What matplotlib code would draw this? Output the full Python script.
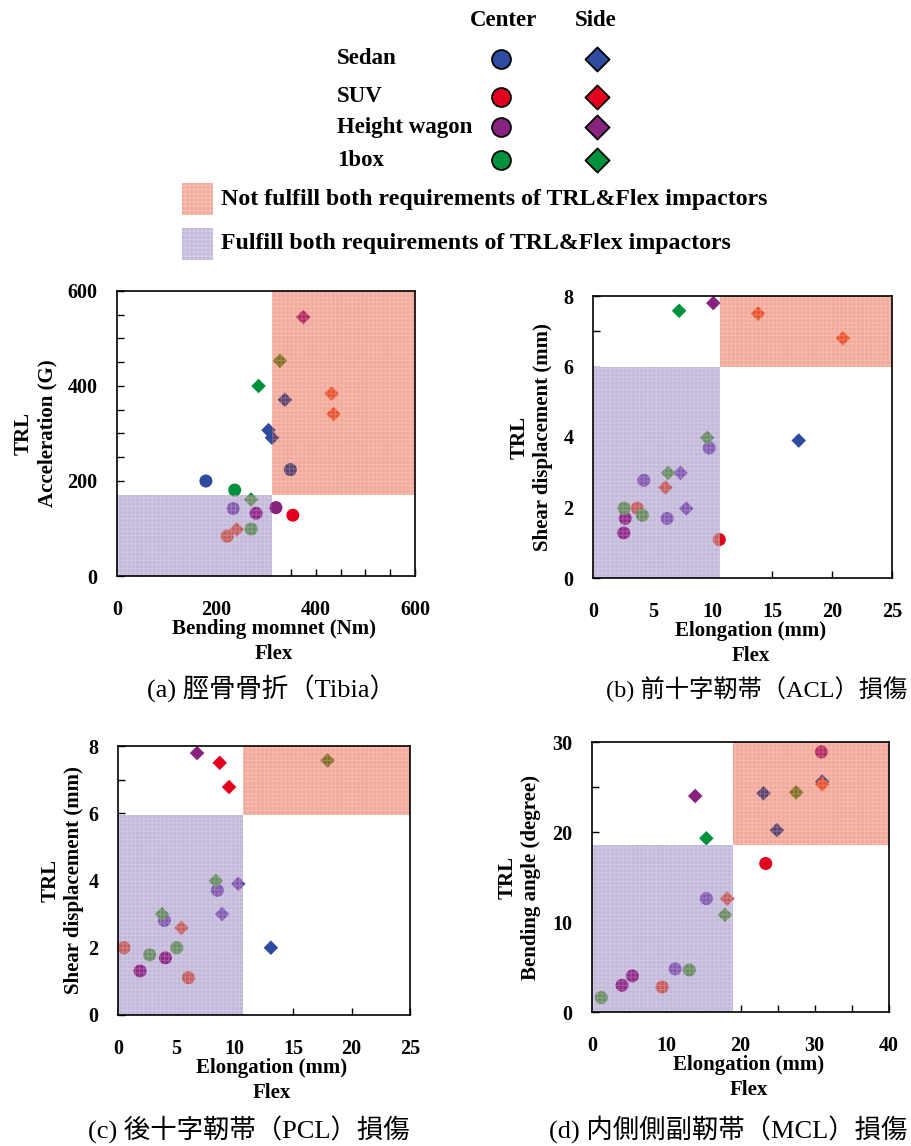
import matplotlib.pyplot as plt
from matplotlib.patches import Rectangle

plt.rcParams['font.family'] = ['Liberation Serif', 'Noto Sans CJK JP']
plt.rcParams['font.weight'] = 'bold'
plt.rcParams['hatch.linewidth'] = 0.8

# vehicle categories, C = center impact (circle), S = side impact (diamond)
cars = ['Sedan', 'SUV', 'Height wagon', '1box']

# (a) Tibia: bending moment (Nm) vs TRL acceleration (G)
tibia_x = [179, 349, 234, 354, 222, 280, 320, 237, 270,
           305, 312, 338, 432, 436, 241, 375, 285, 328, 270]
tibia_y = [200, 224, 142, 128, 84, 132, 144, 181, 99,
           307, 291, 371, 384, 341, 98, 545, 400, 453, 161]
tibia_car = ['Sedan', 'Sedan', 'Sedan', 'SUV', 'SUV', 'Height wagon', 'Height wagon', '1box', '1box',
             'Sedan', 'Sedan', 'Sedan', 'SUV', 'SUV', 'SUV', 'Height wagon', '1box', '1box', '1box']
tibia_kind = ['C'] * 9 + ['S'] * 10
tibia_limit = (313, 171)

# (b) ACL: elongation (mm) vs TRL shear displacement (mm)
acl_x = [9.72, 4.25, 6.2, 3.7, 10.56, 2.7, 2.57, 2.6, 4.13,
         17.2, 7.32, 7.8, 13.8, 20.9, 6.06, 10.06, 7.2, 9.55, 6.28]
acl_y = [3.69, 2.77, 1.69, 1.98, 1.09, 1.69, 1.28, 1.98, 1.78,
         3.9, 2.98, 1.97, 7.5, 6.8, 2.57, 7.8, 7.58, 3.98, 2.98]
acl_car = ['Sedan', 'Sedan', 'Sedan', 'SUV', 'SUV', 'Height wagon', 'Height wagon', '1box', '1box',
           'Sedan', 'Sedan', 'Sedan', 'SUV', 'SUV', 'SUV', 'Height wagon', '1box', '1box', '1box']
acl_kind = ['C'] * 9 + ['S'] * 10
acl_limit = (10.6, 6.0)

# (c) PCL: elongation (mm) vs TRL shear displacement (mm)
pcl_x = [8.51, 3.97, 0.51, 6.03, 4.06, 1.89, 5.03, 2.71,
         13.09, 10.29, 8.91, 8.71, 9.51, 5.43, 6.77, 17.94, 8.37, 3.77]
pcl_y = [3.71, 2.81, 2.0, 1.11, 1.70, 1.31, 2.0, 1.79,
         2.0, 3.9, 3.0, 7.5, 6.78, 2.59, 7.79, 7.57, 3.99, 3.0]
pcl_car = ['Sedan', 'Sedan', 'SUV', 'SUV', 'Height wagon', 'Height wagon', '1box', '1box',
           'Sedan', 'Sedan', 'Sedan', 'SUV', 'SUV', 'SUV', 'Height wagon', '1box', '1box', '1box']
pcl_kind = ['C'] * 8 + ['S'] * 10
pcl_limit = (10.7, 5.95)

# (d) MCL: elongation (mm) vs TRL bending angle (degree)
mcl_x = [15.4, 11.2, 23.4, 9.44, 30.9, 5.44, 4.04, 13.1, 1.26,
         31.0, 23.1, 24.9, 31.0, 18.2, 13.9, 27.5, 15.4, 17.9]
mcl_y = [12.6, 4.79, 16.5, 2.78, 28.9, 4.01, 2.97, 4.68, 1.6,
         25.6, 24.3, 20.2, 25.3, 12.6, 24.0, 24.4, 19.3, 10.8]
mcl_car = ['Sedan', 'Sedan', 'SUV', 'SUV', 'Height wagon', 'Height wagon', 'Height wagon', '1box', '1box',
           'Sedan', 'Sedan', 'Sedan', 'SUV', 'SUV', 'Height wagon', '1box', '1box', '1box']
mcl_kind = ['C'] * 9 + ['S'] * 9
mcl_limit = (19.05, 18.55)

# colours
pure = {'Sedan': '#2D4B9F', 'SUV': '#E3001F', 'Height wagon': '#87237E', '1box': '#00913C'}
in_ok = {'Sedan': '#8157B1', 'SUV': '#C45C5E', 'Height wagon': '#8E2888', '1box': '#678A62'}
in_ng = {'Sedan': '#5B3F6B', 'SUV': '#E8512A', 'Height wagon': '#B5255E', '1box': '#836C22'}
ng_color = '#F2A898'
ok_color = '#C3B8DA'

W, H = 912, 1146
fig = plt.figure(figsize=(W / 100, H / 100), dpi=100)

# ---- legend block at the top (pixel coordinates) ----
lg = fig.add_axes([0, 0, 1, 1])
lg.set_xlim(0, W)
lg.set_ylim(H, 0)
lg.axis('off')
lg.text(504, 20, 'Center', ha='center', va='center', fontsize=16.5)
lg.text(596, 20, 'Side', ha='center', va='center', fontsize=16.5)
row_y = [59, 97, 127, 160]
for car, yy in zip(cars, row_y):
    lg.text(337, yy, car, ha='left', va='center', fontsize=16.5)
    lg.scatter([501], [yy], s=185, marker='o', color=pure[car], edgecolor='black', lw=1.3)
    lg.scatter([597], [yy], s=150, marker='D', color=pure[car], edgecolor='black', lw=1.3)
for yy, col, txt in ((199, ng_color, 'Not fulfill both requirements of TRL&Flex impactors'),
                     (244, ok_color, 'Fulfill both requirements of TRL&Flex impactors')):
    lg.add_patch(Rectangle((182, yy - 16), 31, 32, fc=col, ec='none'))
    lg.add_patch(Rectangle((182, yy - 16), 31, 32, fc='none', ec=(1, 1, 1, 0.3), hatch='++++', lw=0))
    lg.text(221, yy, txt, ha='left', va='center', fontsize=17.2)


def draw_panel(box, xs, ys, car, kind, limit, xmax, ymax, xmaj, xmin, ymaj, ymin,
               xlabel, ylabel, ylab_x, caption, cap_xy, cap_size=19, cap_ha='center'):
    left, top, w, h = box
    ax = fig.add_axes([left / W, 1 - (top + h) / H, w / W, h / H])
    ax.set_xlim(0, xmax)
    ax.set_ylim(0, ymax)
    lx, ly = limit
    ng = Rectangle((lx, ly), xmax - lx, ymax - ly, fc=ng_color, ec='none', zorder=3)
    ok = Rectangle((0, 0), lx, ly, fc=ok_color, ec='none', zorder=3)
    ax.add_patch(ng)
    ax.add_patch(ok)
    for k, marker, size in (('C', 'o', 88), ('S', 'D', 55)):
        idx = [i for i, v in enumerate(kind) if v == k]
        px = [xs[i] for i in idx]
        py = [ys[i] for i in idx]
        pc = [car[i] for i in idx]
        ax.scatter(px, py, c=[pure[c] for c in pc], marker=marker, s=size, lw=0, zorder=2)
        for patch, pal in ((ng, in_ng), (ok, in_ok)):
            sc = ax.scatter(px, py, c=[pal[c] for c in pc], marker=marker, s=size, lw=0, zorder=4)
            sc.set_clip_path(patch)
    for x0, y0, ww, hh in ((lx, ly, xmax - lx, ymax - ly), (0, 0, lx, ly)):
        ax.add_patch(Rectangle((x0, y0), ww, hh, fc='none', ec=(1, 1, 1, 0.22),
                               hatch='++++', lw=0, zorder=5))
    ax.set_xticks(xmaj)
    ax.set_xticks(xmin, minor=True)
    ax.set_yticks(ymaj)
    ax.set_yticks(ymin, minor=True)
    ax.tick_params(which='both', direction='in', length=5, width=1, top=False, right=False)
    ax.tick_params(axis='x', pad=17, labelsize=14.5)
    ax.tick_params(axis='y', pad=14, labelsize=14.5)
    for sp in ax.spines.values():
        sp.set_linewidth(1.2)
        sp.set_zorder(6)
    ax.set_xlabel(xlabel, fontsize=15, fontweight='bold', linespacing=1.35)
    ax.xaxis.set_label_coords(0.5 + 8 / w, -43 / h)
    ax.set_ylabel(ylabel, fontsize=15, fontweight='bold', linespacing=1.25)
    ax.yaxis.set_label_coords(-ylab_x / w, 0.5)
    fig.text(cap_xy[0] / W, 1 - cap_xy[1] / H, caption, ha=cap_ha, va='center',
             fontsize=cap_size, fontweight='normal')
    return ax


draw_panel((117, 291, 298, 285), tibia_x, tibia_y, tibia_car, tibia_kind, tibia_limit,
           600, 600, [0, 200, 400, 600], list(range(0, 601, 50)),
           [0, 200, 400, 600], list(range(0, 601, 50)),
           'Bending momnet (Nm)\nFlex', 'TRL\nAcceleration (G)', 60,
           '(a) 脛骨骨折（Tibia）', (271, 689))
draw_panel((593, 296, 299, 282), acl_x, acl_y, acl_car, acl_kind, acl_limit,
           25, 8, [0, 5, 10, 15, 20, 25], [], [0, 2, 4, 6, 8], list(range(0, 9)),
           'Elongation (mm)\nFlex', 'TRL\nShear displacement (mm)', 40,
           '(b) 前十字靭帯（ACL）損傷', (907, 689), cap_size=17.5, cap_ha='right')
draw_panel((118, 746, 292, 269), pcl_x, pcl_y, pcl_car, pcl_kind, pcl_limit,
           25, 8, [0, 5, 10, 15, 20, 25], [], [0, 2, 4, 6, 8], list(range(0, 9)),
           'Elongation (mm)\nFlex', 'TRL\nShear displacement (mm)', 34,
           '(c) 後十字靭帯（PCL）損傷', (249, 1130))
draw_panel((592, 742, 297, 270), mcl_x, mcl_y, mcl_car, mcl_kind, mcl_limit,
           40, 30, [0, 10, 20, 30, 40], list(range(0, 41, 5)),
           [0, 10, 20, 30], list(range(0, 31, 5)),
           'Elongation (mm)\nFlex', 'TRL\nBending angle (degree)', 51,
           '(d) 内側側副靭帯（MCL）損傷', (907, 1130), cap_ha='right')

fig.savefig('out.png', dpi=100)
